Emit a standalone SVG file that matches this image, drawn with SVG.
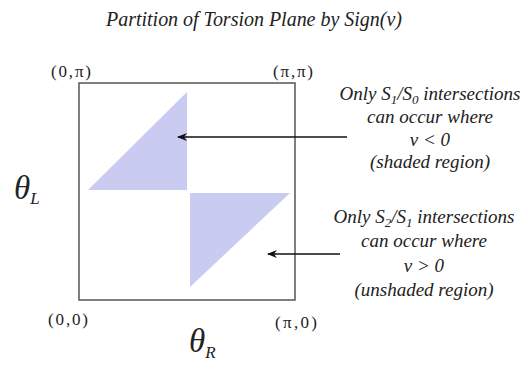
<svg xmlns="http://www.w3.org/2000/svg" width="530" height="368" viewBox="0 0 530 368" font-family="'Liberation Serif', 'DejaVu Serif', serif">
<defs>
<style>
text{font-family:'Liberation Serif','DejaVu Serif',serif;fill:#222}
.i{font-style:italic}
.lab{font-size:17px}
.note{font-size:19px;font-style:italic;text-anchor:middle}
.tri{fill:#c9cbf1}
.conn{stroke:#111;stroke-width:1.3;fill:none}
</style>
<marker id="ah" markerWidth="10" markerHeight="8" refX="9" refY="4" orient="auto" markerUnits="userSpaceOnUse">
<path d="M0,0 L10,4 L0,8 L3,4 Z" fill="#111"/>
</marker>
</defs>
<rect width="530" height="368" fill="#fff"/>
<text x="254" y="26" class="i" font-size="20" text-anchor="middle" textLength="296" lengthAdjust="spacing">Partition of Torsion Plane by Sign(v)</text>
<g id="plane">
<rect x="79" y="83" width="216" height="217" fill="#fff" stroke="#555" stroke-width="1.5"/>
<polygon class="tri" points="88,190 187,92 187,190"/>
<polygon class="tri" points="190,193 290,193 190,287"/>
</g>
<g id="corners">
<text x="51" y="77" class="lab" textLength="40" lengthAdjust="spacing">(0,π)</text>
<text x="273" y="77" class="lab" textLength="40" lengthAdjust="spacing">(π,π)</text>
<text x="48" y="325" class="lab" textLength="40" lengthAdjust="spacing">(0,0)</text>
<text x="275" y="328" class="lab" textLength="42" lengthAdjust="spacing">(π,0)</text>
</g>
<g id="axes">
<text x="14" y="199" class="i" font-size="33">θ<tspan font-size="17" dy="5">L</tspan></text>
<text x="189" y="352" class="i" font-size="33">θ<tspan font-size="17" dy="6">R</tspan></text>
</g>
<g id="note-shaded">
<text x="430" y="100" class="note">Only S<tspan font-size="13" dy="4">1</tspan><tspan dy="-4">/S</tspan><tspan font-size="13" dy="4">0</tspan><tspan dy="-4"> intersections</tspan></text>
<text x="430" y="123" class="note">can occur where</text>
<text x="430" y="146" class="note">v &lt; 0</text>
<text x="430" y="168" class="note">(shaded region)</text>
</g>
<g id="note-unshaded">
<text x="424" y="223" class="note">Only S<tspan font-size="13" dy="4">2</tspan><tspan dy="-4">/S</tspan><tspan font-size="13" dy="4">1</tspan><tspan dy="-4"> intersections</tspan></text>
<text x="424" y="247" class="note">can occur where</text>
<text x="424" y="272" class="note">v &gt; 0</text>
<text x="424" y="296" class="note">(unshaded region)</text>
</g>
<g id="connectors">
<line class="conn" x1="347" y1="137" x2="178" y2="137" marker-end="url(#ah)"/>
<line class="conn" x1="340" y1="254" x2="268" y2="254" marker-end="url(#ah)"/>
</g>
</svg>
